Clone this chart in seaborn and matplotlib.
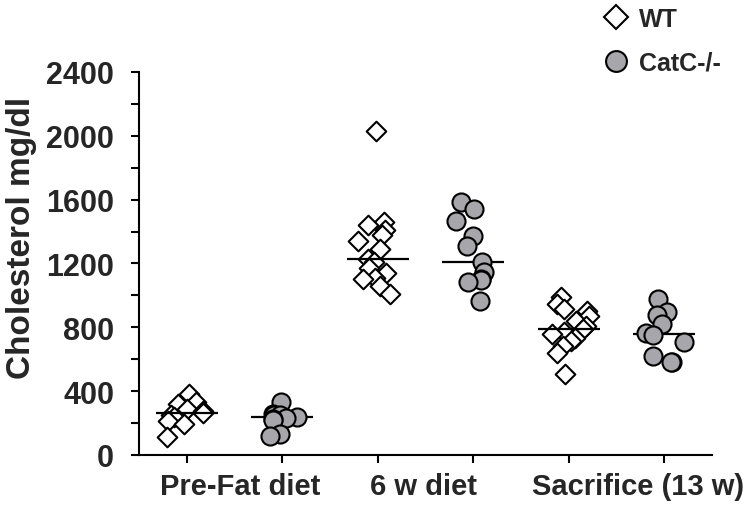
import matplotlib.pyplot as plt
import matplotlib.ticker as mticker
from matplotlib.lines import Line2D
import numpy as np
import pandas as pd
import seaborn as sns

# values (cholesterol, mg/dl)
groups = ["WT pre", "CatC pre", "WT 6w", "CatC 6w", "WT sac", "CatC sac"]
periods = ["Pre-Fat diet", "6 w diet", "Sacrifice (13 w)"]
period_pos = [0.56, 2.48, 4.73]

wt_pre = [380, 330, 320, 290, 275, 260, 250, 240, 215, 195, 110]
catc_pre = [335, 255, 250, 250, 240, 230, 228, 220, 130, 118]
wt_6w = [2030, 1460, 1440, 1410, 1380, 1340, 1290, 1230, 1210, 1170, 1140, 1110, 1100, 1060, 1010]
catc_6w = [1583, 1541, 1468, 1374, 1311, 1207, 1145, 1103, 1094, 1082, 967]
wt_sac = [990, 945, 915, 900, 870, 840, 810, 790, 770, 760, 730, 715, 685, 640, 505]
catc_sac = [975, 895, 880, 820, 765, 755, 710, 620, 580, 580]

series = {
    "WT pre": ("WT", wt_pre), "CatC pre": ("CatC-/-", catc_pre),
    "WT 6w": ("WT", wt_6w), "CatC 6w": ("CatC-/-", catc_6w),
    "WT sac": ("WT", wt_sac), "CatC sac": ("CatC-/-", catc_sac),
}
rows = []
for g, (geno, vals) in series.items():
    for v in vals:
        rows.append({"group": g, "genotype": geno, "value": v})
df = pd.DataFrame(rows)

sns.set_style("ticks")
plt.rcParams["font.family"] = ["Liberation Sans", "DejaVu Sans"]
plt.rcParams["font.weight"] = "bold"

fig = plt.figure(figsize=(7.56, 5.10), dpi=100)
ax = fig.add_axes([0.1839, 0.1059, 0.7579, 0.7510])

np.random.seed(3)
sns.stripplot(data=df[df.genotype == "WT"], x="group", y="value", order=groups,
              marker="D", size=10, jitter=0.22, color="white", edgecolor="black",
              linewidth=1.5, zorder=2, ax=ax)
sns.pointplot(data=df, x="group", y="value", order=groups, estimator="median",
              errorbar=None, color="black", marker="_", markersize=45,
              markeredgewidth=1.6, linestyle="none", zorder=3, ax=ax)
sns.stripplot(data=df[df.genotype == "CatC-/-"], x="group", y="value", order=groups,
              marker="o", size=13, jitter=0.22, color="#a6a6ab", edgecolor="black",
              linewidth=1.5, zorder=4, ax=ax)

ax.set_xlim(-0.5, 5.5)
ax.set_ylim(0, 2400)
ax.yaxis.set_major_locator(mticker.MultipleLocator(400))
ax.yaxis.set_minor_locator(mticker.MultipleLocator(200))
ax.set_xticks(range(6))
ax.set_xticklabels([""] * 6)
ax.tick_params(axis="both", which="both", direction="out", length=6, width=1.5,
               color="black", labelsize=22, pad=12)
for lab in ax.get_yticklabels():
    lab.set_fontweight("bold")
for s in ["top", "right"]:
    ax.spines[s].set_visible(False)
for s in ["left", "bottom"]:
    ax.spines[s].set_linewidth(1.5)
    ax.spines[s].set_color("black")

ax.set_xlabel("")
ax.set_ylabel("Cholesterol mg/dl", fontsize=24, fontweight="bold")
ax.yaxis.set_label_coords(-0.178, 0.57)

trans = ax.get_xaxis_transform()
for p, name in zip(period_pos, periods):
    ax.text(p, -0.08, name, transform=trans, ha="center", va="center",
            fontsize=21, fontweight="bold")

handles = [
    Line2D([], [], marker="D", linestyle="none", markerfacecolor="white",
           markeredgecolor="black", markersize=12, markeredgewidth=1.5),
    Line2D([], [], marker="o", linestyle="none", markerfacecolor="#a6a6ab",
           markeredgecolor="black", markersize=15, markeredgewidth=1.5),
]
fig.legend(handles, ["WT", "CatC-/-"], loc="upper left",
           bbox_to_anchor=(603 / 756, 1 - 8 / 510), frameon=False,
           borderpad=0, borderaxespad=0, handlelength=1.0, handletextpad=0.45,
           labelspacing=0.8, prop={"size": 18, "weight": "bold"})

fig.savefig("out.png", dpi=100)
